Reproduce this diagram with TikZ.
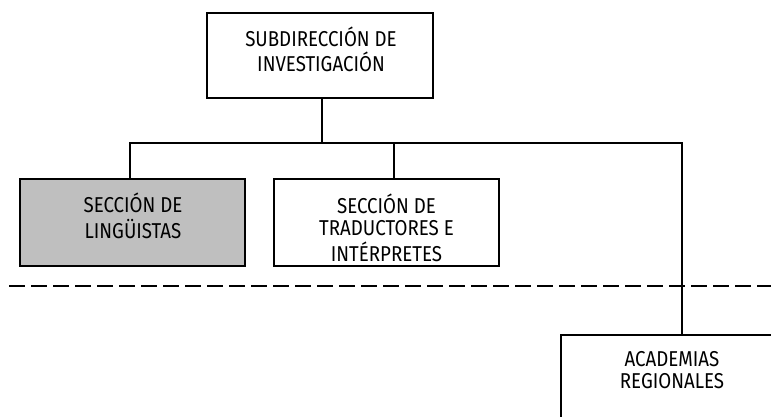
\documentclass[tikz,border=0pt]{standalone}
\usepackage{fontspec}
\setmainfont{Fira Sans}[FakeStretch=0.87]
\newcommand{\boxlines}[1]{\begin{tabular}[t]{@{}c@{}}#1\end{tabular}}
\begin{document}
\begin{tikzpicture}[x=1pt,y=-1pt,
  line width=1.8pt,
  boxst/.style={draw=black,rectangle,inner sep=0pt},
  txt/.style={inner sep=0pt,anchor=base,font=\fontsize{21.5}{22}\selectfont},
  link/.style={draw=black,line width=1.8pt}]
\clip (0,0) rectangle (771,416);
\fill[white] (0,0) rectangle (771,416);
% boxes
\node[boxst,minimum width=226pt,minimum height=85pt] (sub) at (320,55.5) {};
\node[boxst,fill=black!25,minimum width=225pt,minimum height=87pt] (ling) at (132.5,222.5) {};
\node[boxst,minimum width=225pt,minimum height=87pt] (trad) at (386.5,222.5) {};
\node[boxst,minimum width=224pt,minimum height=120pt,anchor=north west] (acad) at (560,334) {};
% texts
\node[txt,font=\fontsize{21.5}{21}\selectfont] (subt) at (321,46) {\boxlines{SUBDIRECCIÓN DE\\INVESTIGACIÓN}};
\node[txt] (lingt) at (133,212.5) {\boxlines{SECCIÓN DE\\LINGÜISTAS}};
\node[txt] (tradt) at (386.5,213) {\boxlines{SECCIÓN DE\\TRADUCTORES E\\INTÉRPRETES}};
\node[txt] (acadt) at (672,366) {\boxlines{ACADEMIAS\\REGIONALES}};
% connectors
\coordinate (bus) at (322,143);
\draw[link] (sub.south -| bus) -- (bus);
\draw[link] (ling.north -| 130,0) -- (130,143) -- (682,143) -- (acad.north -| 682,0);
\draw[link] (394,143) -- (trad.north -| 394,0);
% dashed separator
\coordinate (dl) at (9,286);
\coordinate (dr) at (771,286);
\draw[line width=1.8pt,dash pattern=on 15.5pt off 6.5pt] (dl) -- (dr);
\end{tikzpicture}
\end{document}
